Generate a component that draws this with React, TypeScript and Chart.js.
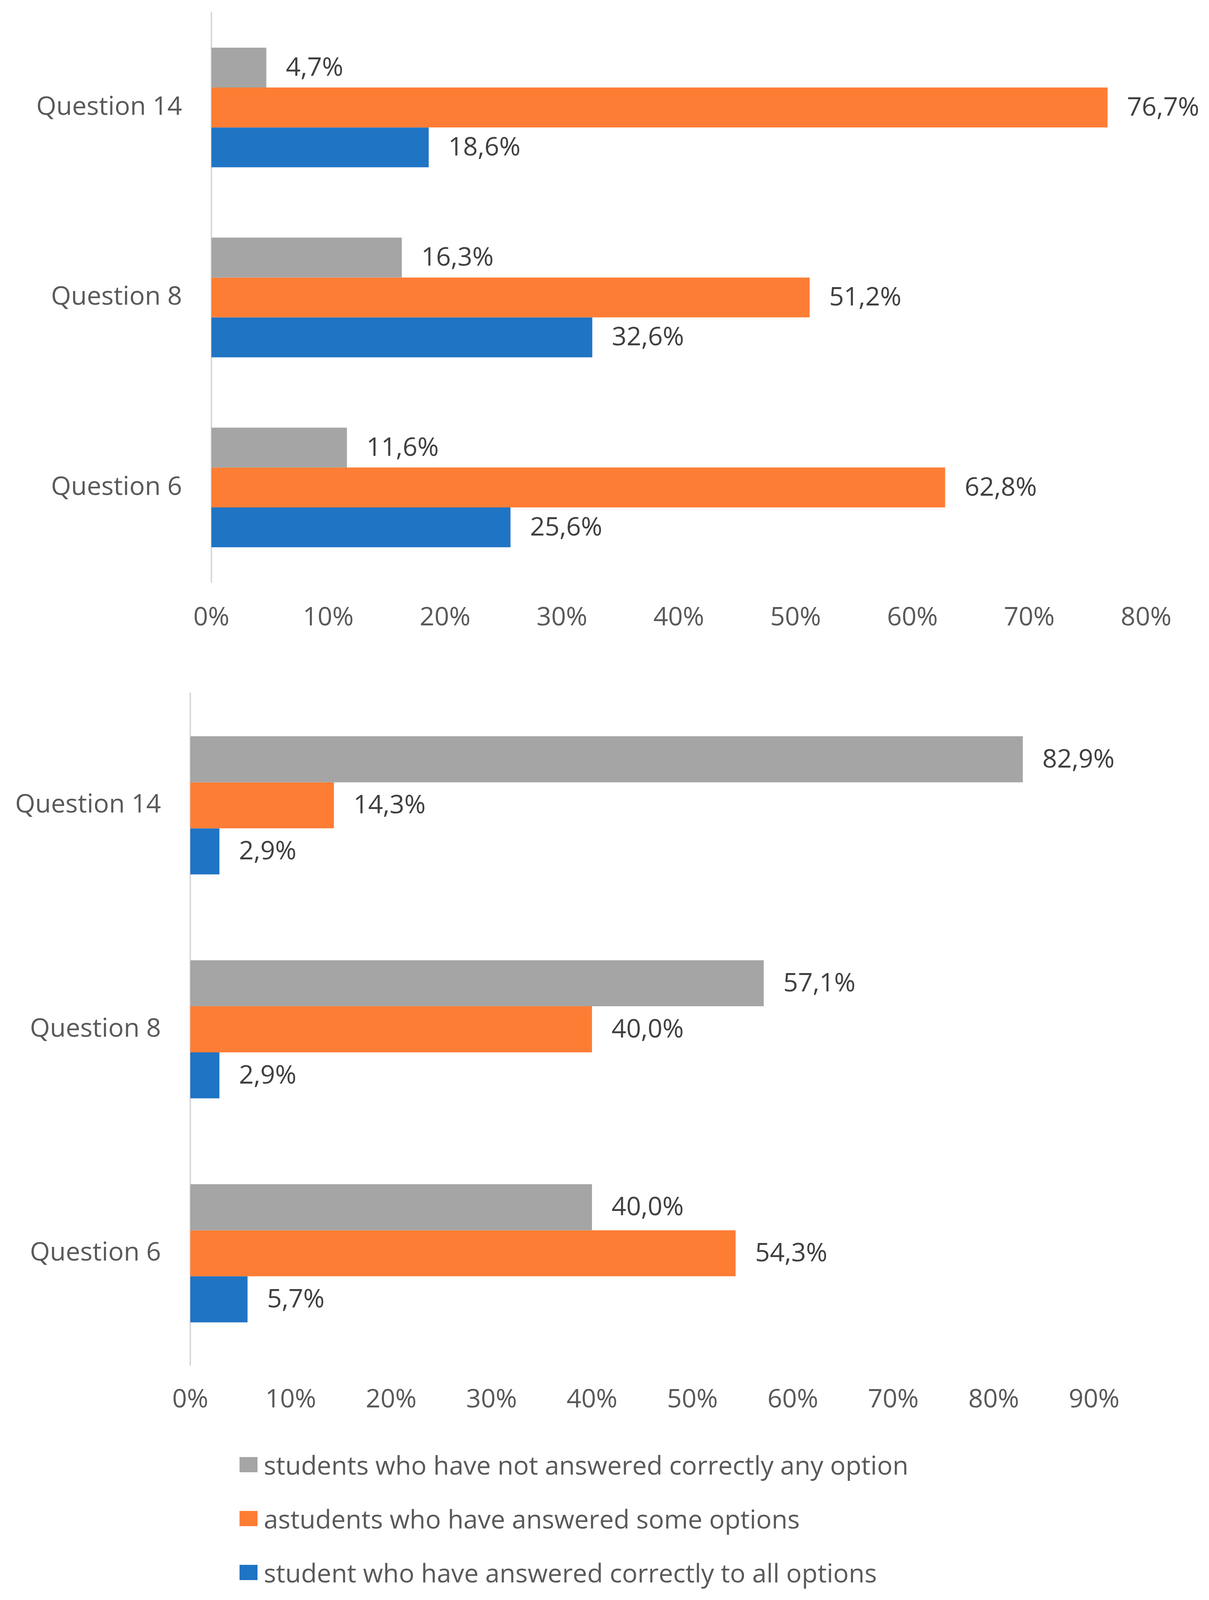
import Chart from "chart.js/auto";
import { useEffect, useRef } from "react";

const categories = ["Question 14", "Question 8", "Question 6"];
const seriesLabels = [
	"students who have not answered correctly any option",
	"astudents who have answered some options",
	"student who have answered correctly to all options",
];
const seriesColors = ["#A5A5A5", "#FE7D35", "#2074C4"];

// first chart
const topNone = [4.7, 16.3, 11.6];
const topSome = [76.7, 51.2, 62.8];
const topAll = [18.6, 32.6, 25.6];
const topTicks = [0, 10, 20, 30, 40, 50, 60, 70, 80];

// second chart
const bottomNone = [82.9, 57.1, 40.0];
const bottomSome = [14.3, 40.0, 54.3];
const bottomAll = [2.9, 2.9, 5.7];
const bottomTicks = [0, 10, 20, 30, 40, 50, 60, 70, 80, 90];

const FONT = "'Open Sans', 'Noto Sans', sans-serif";

// the visible page is 4096px tall, so the whole layout is squeezed a little in height
const PAGE_H = 4096;

const fmt = (v: number) => v.toFixed(1).replace(".", ",") + "%";

const valueLabels = {
	id: "valueLabels",
	afterDatasetsDraw(chart: Chart) {
		const ctx = chart.ctx;
		ctx.save();
		ctx.font = `66px ${FONT}`;
		ctx.fillStyle = "#404040";
		ctx.textAlign = "left";
		ctx.textBaseline = "middle";
		chart.data.datasets.forEach((ds, i) => {
			const meta = chart.getDatasetMeta(i);
			meta.data.forEach((el: any, j: number) => {
				ctx.fillText(fmt(ds.data[j] as number), el.x + 50, el.y + 2);
			});
		});
		ctx.restore();
	},
};

type PanelProps = {
	none: number[];
	some: number[];
	all: number[];
	ticks: number[];
	top: number;
	height: number;
	padTop: number;
	axisX: number;
	axisH: number;
	tickPad: number;
	padRight: number;
	catPct: number;
};

const BarPanel = (p: PanelProps) => {
	const ref = useRef<HTMLCanvasElement | null>(null);

	useEffect(() => {
		if (!ref.current) return;
		const chart = new Chart(ref.current, {
			type: "bar",
			data: {
				labels: categories,
				datasets: [p.none, p.some, p.all].map((d, i) => ({
					label: seriesLabels[i],
					data: d,
					backgroundColor: seriesColors[i],
					borderWidth: 0,
					categoryPercentage: p.catPct,
					barPercentage: 1,
				})),
			},
			options: {
				indexAxis: "y",
				responsive: false,
				devicePixelRatio: 1,
				animation: false,
				layout: { padding: { top: p.padTop, right: p.padRight, bottom: 0, left: 0 } },
				plugins: { legend: { display: false }, tooltip: { enabled: false } },
				scales: {
					x: {
						min: p.ticks[0],
						max: p.ticks[p.ticks.length - 1],
						afterBuildTicks: (s: any) => {
							s.ticks = p.ticks.map((v) => ({ value: v }));
						},
						afterFit: (s: any) => {
							s.height = p.axisH;
							s.paddingLeft = 0;
							s.paddingRight = 0;
						},
						grid: { display: false, drawTicks: false },
						border: { display: false },
						ticks: {
							padding: p.tickPad,
							color: "#595959",
							font: { family: FONT, size: 66 },
							callback: (v: any) => v + "%",
						},
					},
					y: {
						afterFit: (s: any) => {
							s.width = p.axisX;
							s.paddingTop = 0;
							s.paddingBottom = 0;
						},
						grid: { display: false, drawTicks: false },
						border: { display: true, color: "#D9D9D9", width: 4 },
						ticks: {
							padding: 75,
							color: "#595959",
							font: { family: FONT, size: 66 },
						},
					},
				},
			},
			plugins: [valueLabels],
		});
		return () => chart.destroy();
	}, []);

	return (
		<canvas
			ref={ref}
			width={3094}
			height={p.height}
			style={{ position: "absolute", left: 0, top: p.top, width: 3094, height: p.height }}
		/>
	);
};

const App = () => (
	<div style={{ position: "absolute", left: 0, top: 0, width: 3094, height: PAGE_H, background: "#fff", overflow: "hidden" }}>
		<BarPanel
			none={topNone}
			some={topSome}
			all={topAll}
			ticks={topTicks}
			top={0}
			height={1701}
			padTop={32}
			axisX={541}
			axisH={210}
			tickPad={52}
			padRight={161}
			catPct={0.63}
		/>
		<BarPanel
			none={bottomNone}
			some={bottomSome}
			all={bottomAll}
			ticks={bottomTicks}
			top={1701}
			height={1972}
			padTop={74}
			axisX={487}
			axisH={178}
			tickPad={50}
			padRight={294}
			catPct={0.617}
		/>
		{/* legend, one entry per row like the original */}
		<div style={{ position: "absolute", left: 613, top: 3680, fontFamily: FONT, fontSize: 66, color: "#595959" }}>
			{seriesLabels.map((label, i) => (
				<div key={label} style={{ display: "flex", alignItems: "center", height: 138 }}>
					<span style={{ width: 46, height: 39, background: seriesColors[i], marginRight: 16 }} />
					<span style={{ whiteSpace: "nowrap" }}>{label}</span>
				</div>
			))}
		</div>
	</div>
);

export default App;
